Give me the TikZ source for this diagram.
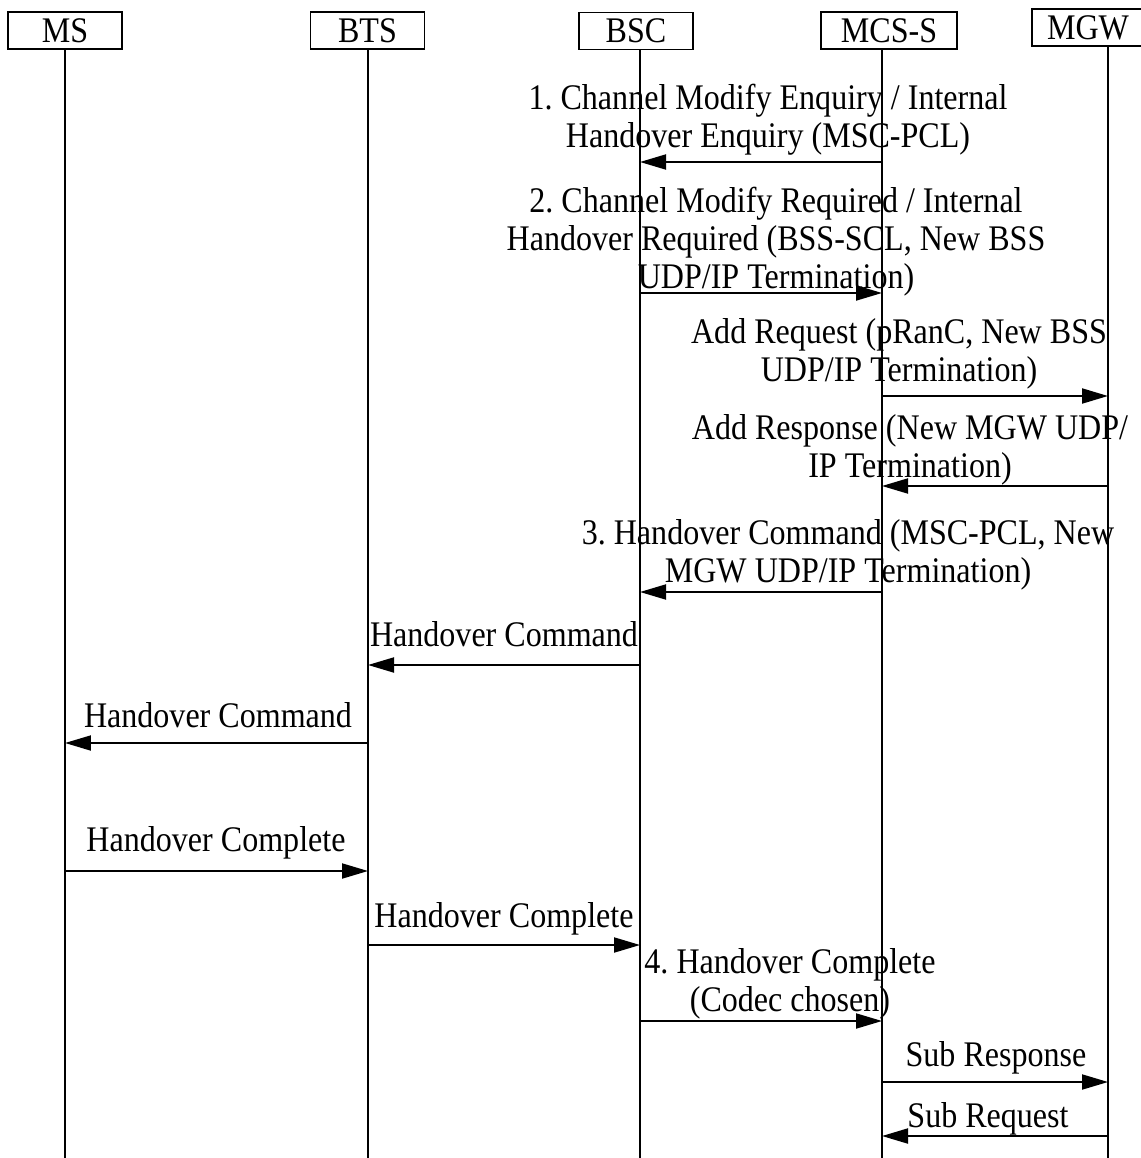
\documentclass[tikz,border=0pt]{standalone}
\usepackage{fontspec}
\setmainfont{Liberation Serif}[FakeStretch=0.89]
\usetikzlibrary{arrows.meta}
\frenchspacing

\tikzset{
	ent/.style={draw, line width=1.1pt, minimum width=2.28cm, minimum height=0.74cm, inner sep=0pt},
	life/.style={line width=1.1pt},
	msg/.style={line width=1.1pt, -{Triangle[length=0.52cm, width=0.3cm]}},
	lbl/.style={align=center, inner sep=0pt}
}

\begin{document}
\begin{tikzpicture}[x=0.02cm, y=-0.02cm, font=\fontsize{20.5}{21.6}\selectfont]
		\useasboundingbox (0,0) rectangle (1141,1158);
		% entities
		\node[ent] (MS) at (65,30.5) {MS};
		\node[ent] (BTS) at (367.5,30.5) {BTS};
		\node[ent] (BSC) at (636,31) {BSC};
		\node[ent, minimum width=2.72cm] (MCSS) at (889,30.5) {MCS-S};
		\node[ent, minimum width=2.24cm] (MGW) at (1088,27.5) {MGW};
		% lifelines
		\coordinate (lMS) at (65,49);
		\coordinate (lBTS) at (368,49);
		\coordinate (lBSC) at (640,50);
		\coordinate (lMCSS) at (882,49);
		\coordinate (lMGW) at (1108,46);
		\draw[life] (lMS) -- (lMS |- 0,1158);
		\draw[life] (lBTS) -- (lBTS |- 0,1158);
		\draw[life] (lBSC) -- (lBSC |- 0,1158);
		\draw[life] (lMCSS) -- (lMCSS |- 0,1158);
		\draw[life] (lMGW) -- (lMGW |- 0,1158);
		% messages
		\draw[msg] (lMCSS |- 0,162) -- (lBSC |- 0,162);
		\node[lbl] (m1) at (768,120) {1. Channel Modify Enquiry / Internal\\Handover Enquiry (MSC-PCL)};
		\draw[msg] (lBSC |- 0,293) -- (lMCSS |- 0,293);
		\node[lbl] (m2) at (776,241.5) {2. Channel Modify Required / Internal\\Handover Required (BSS-SCL, New BSS\\UDP/IP Termination)};
		\draw[msg] (lMCSS |- 0,396) -- (lMGW |- 0,396);
		\node[lbl] (m3) at (899,354) {Add Request (pRanC, New BSS\\UDP/IP Termination)};
		\draw[msg] (lMGW |- 0,486) -- (lMCSS |- 0,486);
		\node[lbl] (m4) at (910,449.5) {Add Response (New MGW UDP/\\IP Termination)};
		\draw[msg] (lMCSS |- 0,592) -- (lBSC |- 0,592);
		\node[lbl] (m5) at (848,554.5) {3. Handover Command (MSC-PCL, New\\MGW UDP/IP Termination)};
		\draw[msg] (lBSC |- 0,665) -- (lBTS |- 0,665);
		\node[lbl] (m6) at (504,634.5) {Handover Command};
		\draw[msg] (lBTS |- 0,743) -- (lMS |- 0,743);
		\node[lbl] (m7) at (218,715) {Handover Command};
		\draw[msg] (lMS |- 0,871) -- (lBTS |- 0,871);
		\node[lbl] (m8) at (216,842.5) {Handover Complete};
		\draw[msg] (lBTS |- 0,945) -- (lBSC |- 0,945);
		\node[lbl] (m9) at (504,918.5) {Handover Complete};
		\draw[msg] (lBSC |- 0,1021) -- (lMCSS |- 0,1021);
		\node[lbl] (m10) at (790,983.5) {4. Handover Complete\\(Codec chosen)};
		\draw[msg] (lMCSS |- 0,1082) -- (lMGW |- 0,1082);
		\node[lbl] (m11) at (996,1057.5) {Sub Response};
		\draw[msg] (lMGW |- 0,1136) -- (lMCSS |- 0,1136);
		\node[lbl] (m12) at (988,1118.5) {Sub Request};
	\end{tikzpicture}
\end{document}
